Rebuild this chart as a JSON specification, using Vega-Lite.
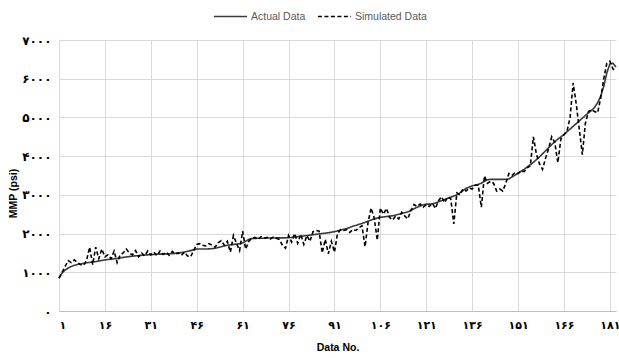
{
  "$schema": "https://vega.github.io/schema/vega-lite/v6.json",
  "width": 557,
  "height": 271,
  "autosize": {"type": "none"},
  "padding": {"left": 59, "top": 40, "right": 3, "bottom": 47},
  "background": "#ffffff",
  "config": {"view": {"stroke": null}},
  "data": {"values": [
{"n":1,"actual":850,"simulated":850},{"n":2,"actual":980,"simulated":1000},{"n":3,"actual":1060,"simulated":1150},{"n":4,"actual":1110,"simulated":1300},{"n":5,"actual":1150,"simulated":1250},{"n":6,"actual":1180,"simulated":1320},{"n":7,"actual":1200,"simulated":1250},{"n":8,"actual":1215,"simulated":1200},{"n":9,"actual":1230,"simulated":1180},{"n":10,"actual":1245,"simulated":1300},
{"n":11,"actual":1255,"simulated":1650},{"n":12,"actual":1265,"simulated":1200},{"n":13,"actual":1275,"simulated":1650},{"n":14,"actual":1290,"simulated":1350},{"n":15,"actual":1305,"simulated":1600},{"n":16,"actual":1320,"simulated":1400},{"n":17,"actual":1330,"simulated":1450},{"n":18,"actual":1340,"simulated":1350},{"n":19,"actual":1350,"simulated":1550},{"n":20,"actual":1360,"simulated":1250},
{"n":21,"actual":1370,"simulated":1450},{"n":22,"actual":1385,"simulated":1500},{"n":23,"actual":1395,"simulated":1600},{"n":24,"actual":1405,"simulated":1500},{"n":25,"actual":1415,"simulated":1450},{"n":26,"actual":1425,"simulated":1560},{"n":27,"actual":1430,"simulated":1400},{"n":28,"actual":1440,"simulated":1500},{"n":29,"actual":1445,"simulated":1420},{"n":30,"actual":1450,"simulated":1550},
{"n":31,"actual":1455,"simulated":1450},{"n":32,"actual":1460,"simulated":1520},{"n":33,"actual":1465,"simulated":1430},{"n":34,"actual":1470,"simulated":1550},{"n":35,"actual":1470,"simulated":1460},{"n":36,"actual":1475,"simulated":1520},{"n":37,"actual":1480,"simulated":1440},{"n":38,"actual":1480,"simulated":1540},{"n":39,"actual":1490,"simulated":1470},{"n":40,"actual":1500,"simulated":1500},
{"n":41,"actual":1510,"simulated":1440},{"n":42,"actual":1520,"simulated":1520},{"n":43,"actual":1540,"simulated":1420},{"n":44,"actual":1560,"simulated":1400},{"n":45,"actual":1580,"simulated":1560},{"n":46,"actual":1600,"simulated":1720},{"n":47,"actual":1600,"simulated":1740},{"n":48,"actual":1600,"simulated":1700},{"n":49,"actual":1600,"simulated":1680},{"n":50,"actual":1605,"simulated":1740},
{"n":51,"actual":1610,"simulated":1700},{"n":52,"actual":1620,"simulated":1650},{"n":53,"actual":1640,"simulated":1760},{"n":54,"actual":1660,"simulated":1820},{"n":55,"actual":1680,"simulated":1700},{"n":56,"actual":1700,"simulated":1800},{"n":57,"actual":1710,"simulated":1520},{"n":58,"actual":1720,"simulated":1950},{"n":59,"actual":1730,"simulated":1750},{"n":60,"actual":1740,"simulated":1560},
{"n":61,"actual":1760,"simulated":2060},{"n":62,"actual":1800,"simulated":1600},{"n":63,"actual":1850,"simulated":1800},{"n":64,"actual":1870,"simulated":1880},{"n":65,"actual":1875,"simulated":1900},{"n":66,"actual":1880,"simulated":1850},{"n":67,"actual":1880,"simulated":1920},{"n":68,"actual":1880,"simulated":1880},{"n":69,"actual":1885,"simulated":1900},{"n":70,"actual":1885,"simulated":1860},
{"n":71,"actual":1885,"simulated":1910},{"n":72,"actual":1890,"simulated":1880},{"n":73,"actual":1890,"simulated":1850},{"n":74,"actual":1890,"simulated":1700},{"n":75,"actual":1890,"simulated":1620},{"n":76,"actual":1895,"simulated":1950},{"n":77,"actual":1900,"simulated":1780},{"n":78,"actual":1910,"simulated":2000},{"n":79,"actual":1920,"simulated":1750},{"n":80,"actual":1930,"simulated":1980},
{"n":81,"actual":1940,"simulated":1720},{"n":82,"actual":1950,"simulated":1950},{"n":83,"actual":1960,"simulated":1800},{"n":84,"actual":1970,"simulated":2050},{"n":85,"actual":1980,"simulated":2080},{"n":86,"actual":1990,"simulated":2060},{"n":87,"actual":2000,"simulated":1500},{"n":88,"actual":2010,"simulated":1850},{"n":89,"actual":2020,"simulated":1480},{"n":90,"actual":2035,"simulated":1800},
{"n":91,"actual":2050,"simulated":1520},{"n":92,"actual":2070,"simulated":2000},{"n":93,"actual":2090,"simulated":2100},{"n":94,"actual":2110,"simulated":2080},{"n":95,"actual":2130,"simulated":2100},{"n":96,"actual":2160,"simulated":2030},{"n":97,"actual":2190,"simulated":2100},{"n":98,"actual":2210,"simulated":2080},{"n":99,"actual":2240,"simulated":2150},{"n":100,"actual":2260,"simulated":2200},
{"n":101,"actual":2290,"simulated":1660},{"n":102,"actual":2320,"simulated":2300},{"n":103,"actual":2350,"simulated":2660},{"n":104,"actual":2380,"simulated":2400},{"n":105,"actual":2400,"simulated":1830},{"n":106,"actual":2420,"simulated":2660},{"n":107,"actual":2430,"simulated":2500},{"n":108,"actual":2440,"simulated":2650},{"n":109,"actual":2450,"simulated":2420},{"n":110,"actual":2460,"simulated":2350},
{"n":111,"actual":2480,"simulated":2450},{"n":112,"actual":2500,"simulated":2380},{"n":113,"actual":2520,"simulated":2550},{"n":114,"actual":2540,"simulated":2450},{"n":115,"actual":2560,"simulated":2380},{"n":116,"actual":2600,"simulated":2600},{"n":117,"actual":2640,"simulated":2750},{"n":118,"actual":2680,"simulated":2700},{"n":119,"actual":2710,"simulated":2760},{"n":120,"actual":2740,"simulated":2680},
{"n":121,"actual":2760,"simulated":2750},{"n":122,"actual":2760,"simulated":2700},{"n":123,"actual":2770,"simulated":2780},{"n":124,"actual":2790,"simulated":2650},{"n":125,"actual":2820,"simulated":2850},{"n":126,"actual":2850,"simulated":2950},{"n":127,"actual":2880,"simulated":2800},{"n":128,"actual":2910,"simulated":2950},{"n":129,"actual":2940,"simulated":2900},{"n":130,"actual":2970,"simulated":2250},
{"n":131,"actual":3000,"simulated":3050},{"n":132,"actual":3050,"simulated":3000},{"n":133,"actual":3110,"simulated":3150},{"n":134,"actual":3170,"simulated":3100},{"n":135,"actual":3200,"simulated":3180},{"n":136,"actual":3230,"simulated":3150},{"n":137,"actual":3250,"simulated":3250},{"n":138,"actual":3270,"simulated":3250},{"n":139,"actual":3300,"simulated":2680},{"n":140,"actual":3350,"simulated":3490},
{"n":141,"actual":3390,"simulated":3300},{"n":142,"actual":3400,"simulated":3350},{"n":143,"actual":3400,"simulated":3300},{"n":144,"actual":3400,"simulated":3100},{"n":145,"actual":3400,"simulated":3150},{"n":146,"actual":3400,"simulated":3100},{"n":147,"actual":3400,"simulated":3300},{"n":148,"actual":3410,"simulated":3550},{"n":149,"actual":3460,"simulated":3500},{"n":150,"actual":3510,"simulated":3580},
{"n":151,"actual":3560,"simulated":3550},{"n":152,"actual":3610,"simulated":3620},{"n":153,"actual":3660,"simulated":3600},{"n":154,"actual":3720,"simulated":3700},{"n":155,"actual":3780,"simulated":3750},{"n":156,"actual":3840,"simulated":4500},{"n":157,"actual":3910,"simulated":4050},{"n":158,"actual":3980,"simulated":3800},{"n":159,"actual":4060,"simulated":3660},{"n":160,"actual":4140,"simulated":3950},
{"n":161,"actual":4220,"simulated":4200},{"n":162,"actual":4300,"simulated":4500},{"n":163,"actual":4370,"simulated":4350},{"n":164,"actual":4440,"simulated":3830},{"n":165,"actual":4500,"simulated":4450},{"n":166,"actual":4560,"simulated":4550},{"n":167,"actual":4630,"simulated":4650},{"n":168,"actual":4700,"simulated":5000},{"n":169,"actual":4770,"simulated":5890},{"n":170,"actual":4840,"simulated":5350},
{"n":171,"actual":4910,"simulated":4700},{"n":172,"actual":4980,"simulated":4040},{"n":173,"actual":5050,"simulated":4850},{"n":174,"actual":5120,"simulated":5150},{"n":175,"actual":5180,"simulated":5200},{"n":176,"actual":5260,"simulated":5150},{"n":177,"actual":5380,"simulated":5120},{"n":178,"actual":5550,"simulated":5500},{"n":179,"actual":5800,"simulated":6000},{"n":180,"actual":6150,"simulated":6400},
{"n":181,"actual":6380,"simulated":6450},{"n":182,"actual":6400,"simulated":6250},{"n":183,"actual":6300,"simulated":6200}
  ]},
  "transform": [{"fold": ["actual", "simulated"], "as": ["series", "mmp"]}],
  "mark": {"type": "line", "strokeWidth": 1.6, "interpolate": "linear"},
  "encoding": {
    "x": {
      "field": "n", "type": "quantitative",
      "scale": {"domain": [1, 183], "nice": false, "zero": false},
      "axis": {
        "values": [1, 16, 31, 46, 61, 76, 91, 106, 121, 136, 151, 166, 181],
        "title": "Data No.",
        "titleFont": "Liberation Sans", "titleFontSize": 10.5, "titleFontWeight": "bold", "titleColor": "#000000", "titlePadding": 12,
        "labelFont": "DejaVu Sans", "labelFontSize": 11, "labelFontWeight": "bold", "labelColor": "#000000", "labelPadding": 8,
        "labelExpr": "replace(replace(replace(replace(replace(replace(replace(replace(replace(replace(toString(datum.value), regexp('0','g'), '۰'), regexp('1','g'), '۱'), regexp('2','g'), '۲'), regexp('3','g'), '۳'), regexp('4','g'), '۴'), regexp('5','g'), '۵'), regexp('6','g'), '۶'), regexp('7','g'), '۷'), regexp('8','g'), '۸'), regexp('9','g'), '۹')",
        "ticks": false, "domainColor": "#bfbfbf", "domainWidth": 1.2,
        "grid": true, "gridColor": "#d9d9d9", "gridWidth": 1
      }
    },
    "y": {
      "field": "mmp", "type": "quantitative",
      "scale": {"domain": [0, 7000], "nice": false},
      "axis": {
        "values": [0, 1000, 2000, 3000, 4000, 5000, 6000, 7000],
        "title": "MMP (psi)",
        "titleFont": "Liberation Sans", "titleFontSize": 10.5, "titleFontWeight": "bold", "titleColor": "#000000",
        "titleX": -46, "titleY": 153, "titleAngle": -90, "titleAlign": "center", "titleBaseline": "middle",
        "labelFont": "DejaVu Sans", "labelFontSize": 12, "labelFontWeight": "bold", "labelColor": "#000000", "labelPadding": 8,
        "labelExpr": "replace(replace(replace(replace(replace(replace(replace(replace(replace(replace(toString(datum.value), regexp('0','g'), '۰'), regexp('1','g'), '۱'), regexp('2','g'), '۲'), regexp('3','g'), '۳'), regexp('4','g'), '۴'), regexp('5','g'), '۵'), regexp('6','g'), '۶'), regexp('7','g'), '۷'), regexp('8','g'), '۸'), regexp('9','g'), '۹')",
        "ticks": false, "domain": false,
        "grid": true, "gridColor": "#d9d9d9", "gridWidth": 1
      }
    },
    "strokeDash": {
      "field": "series", "type": "nominal",
      "scale": {"domain": ["actual", "simulated"], "range": [[1, 0], [4, 2.5]]},
      "legend": {
        "orient": "none", "legendX": 154, "legendY": -41, "direction": "horizontal", "title": null,
        "labelExpr": "datum.value == 'actual' ? 'Actual Data' : 'Simulated Data'",
        "labelFont": "Liberation Sans", "labelFontSize": 10.5, "labelColor": "#595959", "labelOffset": 3,
        "symbolType": "stroke", "symbolSize": 1100, "symbolStrokeWidth": 1.6, "columnPadding": 8
      }
    },
    "color": {
      "field": "series", "type": "nominal",
      "scale": {"domain": ["actual", "simulated"], "range": ["#3a3a3a", "#000000"]},
      "legend": {
        "orient": "none", "legendX": 154, "legendY": -41, "direction": "horizontal", "title": null,
        "labelExpr": "datum.value == 'actual' ? 'Actual Data' : 'Simulated Data'",
        "labelFont": "Liberation Sans", "labelFontSize": 10.5, "labelColor": "#595959", "labelOffset": 3,
        "symbolType": "stroke", "symbolSize": 1100, "symbolStrokeWidth": 1.6, "columnPadding": 8
      }
    }
  }
}
